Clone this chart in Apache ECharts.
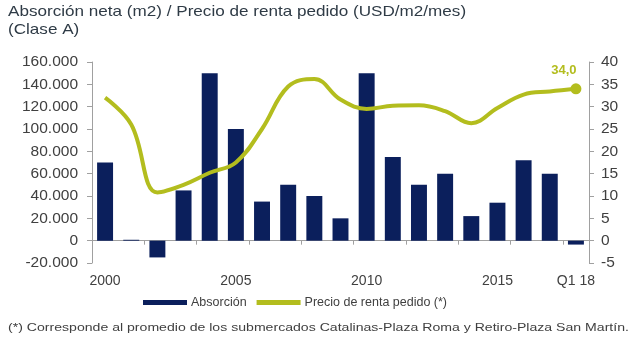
<!DOCTYPE html>
<html>
<head>
<meta charset="utf-8">
<script src="https://cdn.jsdelivr.net/npm/echarts@6/dist/echarts.min.js"></script>
<style>
html,body{margin:0;padding:0;background:#fff;}
#c{width:640px;height:338px;}
</style>
</head>
<body>
<div id="c"></div>
<script>
const categories = ['2000','2001','2002','2003','2004','2005','2006','2007','2008','2009','2010','2011','2012','2013','2014','2015','2016','2017','Q1 18'];
const absorcion = [70000, 800, -15000, 45000, 150000, 100000, 35000, 50000, 40000, 20000, 150000, 75000, 50000, 60000, 22000, 34000, 72000, 60000, -3500];
const precio = [32, 26, 10.8, 12.5, 15.2, 17.5, 25, 34.5, 36.2, 31.6, 29.5, 30.2, 30.3, 29, 26.3, 29.7, 32.7, 33.4, 34.0];
const shownLabels = ['2000','2005','2010','2015','Q1 18'];

const navy = '#0b1f5c';
const olive = '#b3bd1e';
const axisGray = '#a0a0a0';
const textGray = '#404040';
const font = 'Liberation Sans, Arial, sans-serif';

const chart = echarts.init(document.getElementById('c'));
chart.setOption({
  animation: false,
  graphic: [{
    type: 'text', x: 8, y: 3, scaleX: 1.14,
    style: {text: 'Absorción neta (m2) / Precio de renta pedido (USD/m2/mes)\n(Clase A)', font: '15px ' + font, fill: '#2f3b46', lineHeight: 18}
  }, {
    type: 'text', x: 8, y: 322, scaleX: 1.225,
    style: {text: '(*) Corresponde al promedio de los submercados Catalinas-Plaza Roma y Retiro-Plaza San Martín.', font: '11.5px ' + font, fill: textGray}
  }],
  legend: {
    top: 291, left: 138,
    itemWidth: 44, itemHeight: 5, itemGap: 10,
    textStyle: {fontFamily: font, fontSize: 12.5, color: textGray, padding: [0,0,0,-1]},
    data: [
      {name: 'Absorción', icon: 'rect', itemStyle: {color: navy}},
      {name: 'Precio de renta pedido (*)', icon: 'rect', itemStyle: {color: olive}}
    ]
  },
  grid: {left: 92, right: 51, top: 62, bottom: 75},
  xAxis: [{
    type: 'category', data: categories, position: 'bottom',
    axisLine: {show: false, onZero: false}, axisTick: {show: false},
    axisLabel: {
      margin: 11, fontFamily: font, fontSize: 14, color: textGray,
      interval: function (i, v) { return shownLabels.indexOf(v) >= 0; }
    }
  }, {
    type: 'category', data: categories, position: 'bottom',
    axisLine: {show: true, onZero: true, lineStyle: {color: axisGray, width: 1}},
    axisTick: {show: true, inside: false, length: 4, lineStyle: {color: axisGray}},
    axisLabel: {show: false}
  }],
  yAxis: [{
    type: 'value', min: -20000, max: 160000, interval: 20000,
    axisLine: {show: true, lineStyle: {color: axisGray}},
    axisTick: {show: true, length: 5, lineStyle: {color: axisGray}},
    splitLine: {show: false},
    axisLabel: {
      margin: 14, fontFamily: font, fontSize: 15.5, color: textGray,
      formatter: function (v) { return v.toLocaleString('de-DE'); }
    }
  }, {
    type: 'value', min: -5, max: 40, interval: 5, position: 'right',
    axisLine: {show: true, lineStyle: {color: axisGray}},
    axisTick: {show: true, length: 5, lineStyle: {color: axisGray}},
    splitLine: {show: false},
    axisLabel: {margin: 12, fontFamily: font, fontSize: 15.5, color: textGray}
  }],
  series: [{
    name: 'Absorción', type: 'bar', data: absorcion, xAxisIndex: 0, yAxisIndex: 0,
    barCategoryGap: '39%', itemStyle: {color: navy}
  }, {
    name: 'Precio de renta pedido (*)', type: 'line', data: precio, xAxisIndex: 0, yAxisIndex: 1,
    smooth: 0.4, lineStyle: {color: olive, width: 4},
    itemStyle: {color: olive},
    symbol: 'circle', symbolSize: function (v, p) { return p.dataIndex === precio.length - 1 ? 11 : 0; },
    showSymbol: true,
    label: {
      show: true, position: 'top', distance: 6, offset: [-12, 0],
      fontFamily: font, fontSize: 13, fontWeight: 'bold', color: olive,
      formatter: function (p) { return p.dataIndex === precio.length - 1 ? p.value.toFixed(1).replace('.', ',') : ''; }
    }
  }]
});
</script>
</body>
</html>
